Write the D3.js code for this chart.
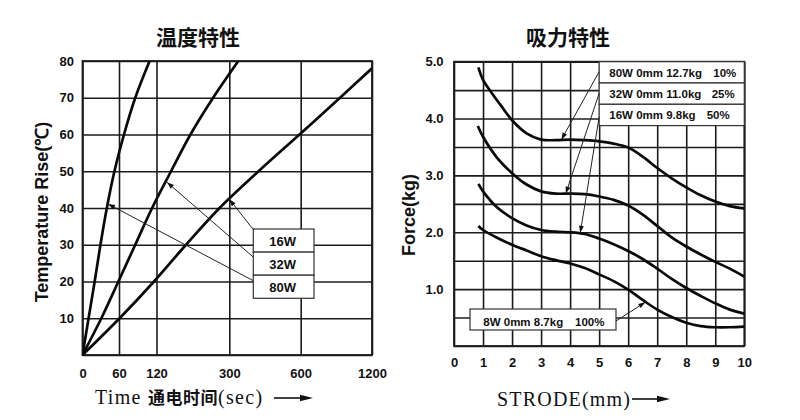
<!DOCTYPE html>
<html><head><meta charset="utf-8">
<script src="https://cdn.jsdelivr.net/npm/d3@7"></script>
<style>body{margin:0;background:#fff}svg{display:block}</style>
</head><body><svg id="c" width="800" height="420"></svg>
<script>
// ---------- data: 温度特性 (temperature rise vs time) ----------
const timeTicks = [0, 60, 120, 300, 600, 1200];
const tempGridTicks = [0, 10, 20, 30, 40, 50, 60, 70, 80];
const tempLabelTicks = [10, 20, 30, 40, 50, 60, 70, 80];
const tempSeries = ["16W", "32W", "80W"];
const temp16W = [[0,0],[61,10],[116,20],[193,30],[276,40],[423,50],[595,60],[931,70],[1200,78]];
const temp32W = [[0,0],[31,10],[59,20],[86,30],[113,40],[156,50],[204,60],[260,70],[338,80]];
const temp80W = [[0,0],[10,10],[20,20],[29.5,30],[40,40],[52.5,50],[68,60],[86,70],[109,80]];
const tempArrowTips = [[300,42.4],[146,47],[42,41.1]];

// ---------- data: 吸力特性 (force vs stroke) ----------
const strokeTicks = [0,1,2,3,4,5,6,7,8,9,10];
const forceGridTicks = [0,0.5,1,1.5,2,2.5,3,3.5,4,4.5,5];
const forceLabelTicks = [1,2,3,4,5];
const force80W = [[0.84,4.90],[1.0,4.68],[1.3,4.45],[1.6,4.24],[2.0,3.97],[2.5,3.74],[3.0,3.63],[3.5,3.62],[4.0,3.63],[4.5,3.62],[5.0,3.6],[5.5,3.56],[6.0,3.49],[6.5,3.33],[7.0,3.13],[7.5,2.95],[8.0,2.79],[8.5,2.65],[9.0,2.54],[9.5,2.46],[10,2.42]];
const force32W = [[0.82,3.87],[1.0,3.68],[1.5,3.30],[2.0,3.04],[2.5,2.84],[3.0,2.72],[3.5,2.68],[4.0,2.68],[4.5,2.67],[5.0,2.63],[5.5,2.57],[6.0,2.47],[6.5,2.31],[7.0,2.11],[7.5,1.91],[8.0,1.75],[8.5,1.61],[9.0,1.48],[9.5,1.36],[10,1.22]];
const force16W = [[0.84,2.85],[1.0,2.72],[1.5,2.43],[2.0,2.25],[2.5,2.12],[3.0,2.04],[3.5,2.01],[4.0,2.0],[4.5,1.97],[5.0,1.89],[5.5,1.79],[6.0,1.67],[6.5,1.53],[7.0,1.36],[7.5,1.18],[8.0,1.02],[8.5,0.88],[9.0,0.75],[9.5,0.64],[10,0.57]];
const force8W = [[0.84,2.11],[1.0,2.04],[1.5,1.90],[2.0,1.78],[2.5,1.68],[3.0,1.58],[3.5,1.51],[4.0,1.45],[4.5,1.37],[5.0,1.26],[5.5,1.14],[6.0,0.99],[6.5,0.81],[7.0,0.64],[7.5,0.51],[8.0,0.41],[8.5,0.35],[9.0,0.33],[9.5,0.33],[10,0.34]];
const forceLabels = ["80W 0mm 12.7kg", "32W 0mm 11.0kg", "16W 0mm 9.8kg", "8W 0mm 8.7kg"];
const forcePct = ["10%", "25%", "50%", "100%"];
const forceArrowTips = [[3.7,3.63],[3.85,2.68],[4.35,1.99],[6.59,0.77]];

// ---------- drawing ----------
const svg = d3.select("#c");
svg.append("rect").attr("width", 800).attr("height", 420).attr("fill", "#fff");
const defs = svg.append("defs");
defs.append("marker").attr("id", "ah").attr("viewBox", "0 0 10 10")
  .attr("refX", 10).attr("refY", 5).attr("markerWidth", 8).attr("markerHeight", 7)
  .attr("markerUnits", "userSpaceOnUse").attr("orient", "auto")
  .append("path").attr("d", "M0,1.5L10,5L0,8.5Z").attr("fill", "#111");

const SANS = "'Liberation Sans', Arial, Helvetica, sans-serif";
const CJK = "'Noto Sans CJK SC', sans-serif";
const SERIF = "'Liberation Serif', 'Times New Roman', serif";
const GRID = "#1c1c1c";

function styleAxisText(g, size) {
  g.select(".domain").remove();
  g.attr("font-family", SANS).attr("font-size", size).attr("font-weight", "bold");
  g.selectAll("text").attr("fill", "#111");
}
function gridLines(g) {
  g.select(".domain").remove();
  g.selectAll("line").attr("stroke", GRID).attr("stroke-width", 1.6);
}

// ======= LEFT PANEL =======
const L = {x0: 82.5, x1: 372, y0: 61, y1: 355};
const xFrac = [0, 0.1261, 0.2556, 0.5071, 0.7537, 1];
const xT = d3.scaleLinear().domain(timeTicks).range(xFrac.map(f => L.x0 + f * (L.x1 - L.x0)));
const yT = d3.scaleLinear().domain([0, 80]).range([L.y1, L.y0]);

const gl = svg.append("g");
gl.append("g").attr("transform", `translate(0,${L.y1})`)
  .call(d3.axisBottom(xT).tickValues(timeTicks).tickSize(-(L.y1 - L.y0)).tickFormat("")).call(gridLines);
gl.append("g").attr("transform", `translate(${L.x0},0)`)
  .call(d3.axisLeft(yT).tickValues(tempGridTicks).tickSize(-(L.x1 - L.x0)).tickFormat("")).call(gridLines);
gl.append("rect").attr("x", L.x0).attr("y", L.y0).attr("width", L.x1 - L.x0).attr("height", L.y1 - L.y0)
  .attr("fill", "none").attr("stroke", GRID).attr("stroke-width", 1.8);

gl.append("g").attr("transform", `translate(0,${L.y1})`)
  .call(d3.axisBottom(xT).tickValues(timeTicks).tickSize(0).tickPadding(13.5).tickFormat(d3.format("d")))
  .call(g => styleAxisText(g, 13));
gl.append("g").attr("transform", `translate(${L.x0},0)`)
  .call(d3.axisLeft(yT).tickValues(tempLabelTicks).tickSize(0).tickPadding(8.5).tickFormat(d3.format("d")))
  .call(g => styleAxisText(g, 13));

defs.append("clipPath").attr("id", "clipL").append("rect")
  .attr("x", L.x0).attr("y", L.y0).attr("width", L.x1 - L.x0).attr("height", L.y1 - L.y0);
const lineT = d3.line().x(d => xT(d[0])).y(d => yT(d[1])).curve(d3.curveCatmullRom.alpha(0.5));
const gCurvesL = gl.append("g").attr("clip-path", "url(#clipL)");
[temp16W, temp32W, temp80W].forEach(s => {
  gCurvesL.append("path").attr("d", lineT(s)).attr("fill", "none")
    .attr("stroke", "#0a0a0a").attr("stroke-width", 2.7).attr("stroke-linejoin", "round");
});

// left legend
const LB = {x: 253.3, y: 229, w: 60.7, rh: 23.1};
const legStarts = [[LB.x, LB.y + 0.5], [LB.x, LB.y + LB.rh + 5], [LB.x, LB.y + 2 * LB.rh + 5.5]];
tempSeries.forEach((s, i) => {
  gl.append("line").attr("x1", legStarts[i][0]).attr("y1", legStarts[i][1])
    .attr("x2", xT(tempArrowTips[i][0])).attr("y2", yT(tempArrowTips[i][1]))
    .attr("stroke", "#222").attr("stroke-width", 1).attr("marker-end", "url(#ah)");
});
tempSeries.forEach((s, i) => {
  gl.append("rect").attr("x", LB.x).attr("y", LB.y + i * LB.rh).attr("width", LB.w).attr("height", LB.rh)
    .attr("fill", "#fff").attr("stroke", "#333").attr("stroke-width", 1.2);
  gl.append("text").attr("x", LB.x + LB.w / 2 - 1).attr("y", LB.y + i * LB.rh + LB.rh / 2 + 5.5)
    .attr("text-anchor", "middle").attr("font-family", SANS).attr("font-weight", "bold")
    .attr("font-size", 13).attr("fill", "#111").text(s);
});

// titles
svg.append("text").attr("x", 198).attr("y", 45).attr("text-anchor", "middle")
  .attr("font-family", CJK).attr("font-weight", "bold").attr("font-size", 21).attr("fill", "#111").text("温度特性");
svg.append("text").attr("transform", "translate(48,212) rotate(-90)").attr("text-anchor", "middle")
  .attr("font-family", SANS).attr("font-weight", "bold").attr("font-size", 18).attr("fill", "#111")
  .text("Temperature Rise(℃)");
const tl = svg.append("text").attr("x", 95).attr("y", 404).attr("font-family", SERIF)
  .attr("font-size", 20).attr("letter-spacing", 1.3).attr("fill", "#111");
tl.append("tspan").text("Time ");
tl.append("tspan").attr("font-family", CJK).attr("font-size", 17).attr("font-weight", "bold").attr("letter-spacing", 0.5).text("通电时间");
tl.append("tspan").text("(sec)");

function axisArrow(x1, x2, y) {
  svg.append("line").attr("x1", x1).attr("x2", x2 - 10).attr("y1", y).attr("y2", y)
    .attr("stroke", "#111").attr("stroke-width", 1.6);
  svg.append("path").attr("d", `M${x2},${y}L${x2 - 13},${y - 3.2}L${x2 - 13},${y + 3.2}Z`).attr("fill", "#111");
}
axisArrow(274, 313, 398);

// ======= RIGHT PANEL =======
const R = {x0: 454, x1: 744.3, y0: 61.7, y1: 346};
const xF = d3.scaleLinear().domain([0, 10]).range([R.x0, R.x1]);
const yF = d3.scaleLinear().domain([0, 5]).range([R.y1, R.y0]);

const gr = svg.append("g");
gr.append("g").attr("transform", `translate(0,${R.y1})`)
  .call(d3.axisBottom(xF).tickValues(strokeTicks).tickSize(-(R.y1 - R.y0)).tickFormat("")).call(gridLines);
gr.append("g").attr("transform", `translate(${R.x0},0)`)
  .call(d3.axisLeft(yF).tickValues(forceGridTicks).tickSize(-(R.x1 - R.x0)).tickFormat("")).call(gridLines);
gr.append("rect").attr("x", R.x0).attr("y", R.y0).attr("width", R.x1 - R.x0).attr("height", R.y1 - R.y0)
  .attr("fill", "none").attr("stroke", GRID).attr("stroke-width", 1.8);

gr.append("g").attr("transform", `translate(0,${R.y1})`)
  .call(d3.axisBottom(xF).tickValues(strokeTicks).tickSize(0).tickPadding(12).tickFormat(d3.format("d")))
  .call(g => styleAxisText(g, 13));
gr.append("g").attr("transform", `translate(${R.x0},0)`)
  .call(d3.axisLeft(yF).tickValues(forceLabelTicks).tickSize(0).tickPadding(10.5).tickFormat(d3.format(".1f")))
  .call(g => styleAxisText(g, 13));

const lineF = d3.line().x(d => xF(d[0])).y(d => yF(d[1])).curve(d3.curveCatmullRom.alpha(0.5));
[force80W, force32W, force16W, force8W].forEach(s => {
  gr.append("path").attr("d", lineF(s)).attr("fill", "none")
    .attr("stroke", "#0a0a0a").attr("stroke-width", 2.7).attr("stroke-linejoin", "round");
});

// right legend (top box, 3 rows)
const RB = {x: xF(5), y: R.y0, w: R.x1 - xF(5), rh: 21.3};
const pctX = [713.3, 711.7, 706.7];
[0, 1, 2].forEach(i => {
  gr.append("rect").attr("x", RB.x).attr("y", RB.y + i * RB.rh).attr("width", RB.w).attr("height", RB.rh)
    .attr("fill", "#fff").attr("stroke", "#333").attr("stroke-width", 1.2);
  const ty = RB.y + i * RB.rh + RB.rh / 2 + 4.3;
  gr.append("text").attr("x", 609.3).attr("y", ty).attr("font-family", SANS).attr("font-weight", "bold")
    .attr("font-size", 11.5).attr("fill", "#111").text(forceLabels[i]);
  gr.append("text").attr("x", pctX[i]).attr("y", ty).attr("font-family", SANS).attr("font-weight", "bold")
    .attr("font-size", 11.5).attr("fill", "#111").text(forcePct[i]);
});
const rStarts = [[RB.x, 71.7], [RB.x, 93.3], [RB.x, 117]];
[0, 1, 2].forEach(i => {
  gr.append("line").attr("x1", rStarts[i][0]).attr("y1", rStarts[i][1])
    .attr("x2", xF(forceArrowTips[i][0])).attr("y2", yF(forceArrowTips[i][1]))
    .attr("stroke", "#222").attr("stroke-width", 1).attr("marker-end", "url(#ah)");
});
// 8W box
const B8 = {x: 470, y: 309, w: 146, h: 21};
gr.append("rect").attr("x", B8.x).attr("y", B8.y).attr("width", B8.w).attr("height", B8.h)
  .attr("fill", "#fff").attr("stroke", "#333").attr("stroke-width", 1.2);
gr.append("text").attr("x", 483.3).attr("y", 325.5).attr("font-family", SANS).attr("font-weight", "bold")
  .attr("font-size", 11.5).attr("fill", "#111").text(forceLabels[3]);
gr.append("text").attr("x", 575).attr("y", 325.5).attr("font-family", SANS).attr("font-weight", "bold")
  .attr("font-size", 11.5).attr("fill", "#111").text(forcePct[3]);
gr.append("line").attr("x1", B8.x + B8.w).attr("y1", 321)
  .attr("x2", xF(forceArrowTips[3][0])).attr("y2", yF(forceArrowTips[3][1]))
  .attr("stroke", "#222").attr("stroke-width", 1).attr("marker-end", "url(#ah)");

// titles
svg.append("text").attr("x", 568).attr("y", 45).attr("text-anchor", "middle")
  .attr("font-family", CJK).attr("font-weight", "bold").attr("font-size", 21).attr("fill", "#111").text("吸力特性");
svg.append("text").attr("transform", "translate(414.5,215) rotate(-90)").attr("text-anchor", "middle")
  .attr("font-family", SANS).attr("font-weight", "bold").attr("font-size", 18).attr("fill", "#111")
  .text("Force(kg)");
svg.append("text").attr("x", 497).attr("y", 405.5).attr("font-family", SERIF)
  .attr("font-size", 20).attr("letter-spacing", 1.2).attr("fill", "#111").text("STRODE(mm)");
axisArrow(632, 670, 399);
</script></body></html>
